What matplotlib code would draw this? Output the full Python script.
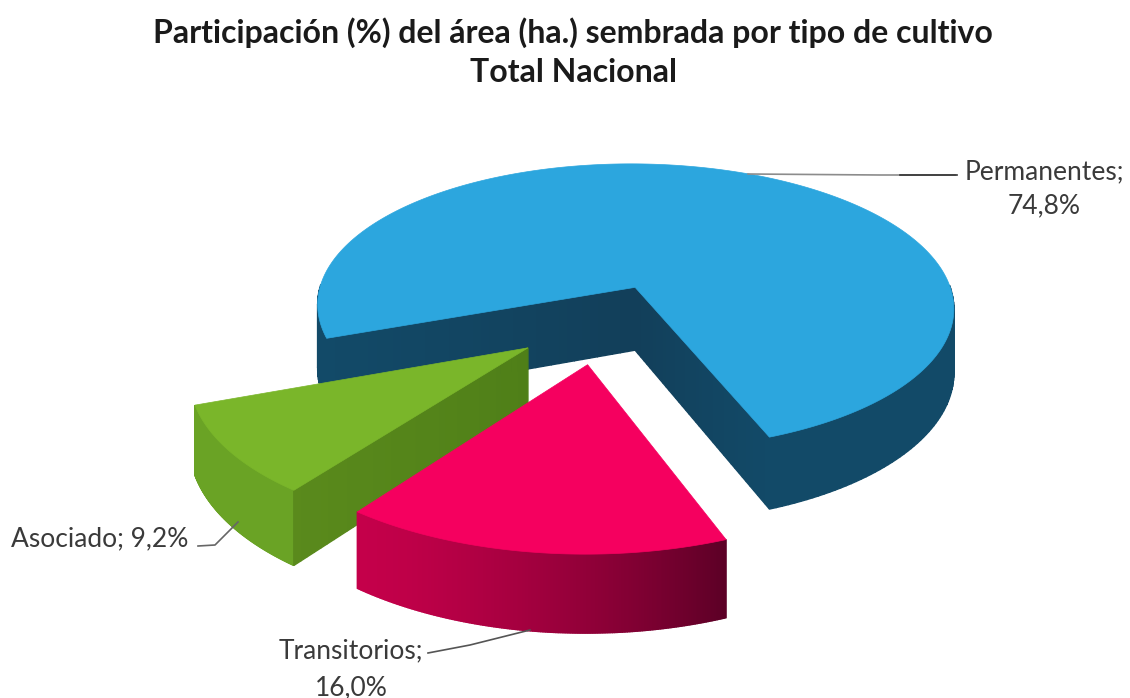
import numpy as np
import matplotlib
matplotlib.use("Agg")
import matplotlib.pyplot as plt
from matplotlib.colors import to_rgb

categories = ["Permanentes", "Asociado", "Transitorios"]
values = [74.8, 9.2, 16.0]
labels = ["Permanentes;\n74,8%", "Asociado; 9,2%", "Transitorios;\n16,0%"]
title = "Participación (%) del área (ha.) sembrada por tipo de cultivo\nTotal Nacional"

plt.rcParams["font.family"] = ["Lato", "DejaVu Sans"]

CX, CY = 600, 323
RX, RY = 326, 150
KP = 0.14
EXPLODE = 0.27
DEPTH = 65
START = -69  # where Permanentes begins, going counter-clockwise


def project(u, v, down=0.0):
    s = 1 / (1 + KP * v)
    return CX + RX * u * s, CY - RY * v * s + down * s


def mix(c1, c2, f):
    a, b = np.array(to_rgb(c1)), np.array(to_rgb(c2))
    return tuple(a + (b - a) * f)


def draw_wedge(ax, a0, a1, top, side_a, side_b, faces=(), face_a="k", face_b="k"):
    mid = np.radians((a0 + a1) / 2)
    ou, ov = EXPLODE * np.cos(mid), EXPLODE * np.sin(mid)
    ang = np.linspace(a0, a1, 240)

    # outer wall, only the part that looks at the viewer
    for t0, t1 in zip(ang[:-1], ang[1:]):
        tm = np.radians((t0 + t1) / 2)
        if np.sin(tm) > 0.02:
            continue
        u = ou + np.cos(np.radians([t0, t1]))
        v = ov + np.sin(np.radians([t0, t1]))
        x0, y0 = project(u, v)
        x1, y1 = project(u, v, DEPTH)
        c = mix(side_a, side_b, ((t0 - a0) / (a1 - a0)) ** 1.6)
        ax.fill([x0[0], x0[1], x1[1], x1[0]], [y0[0], y0[1], y1[1], y1[0]],
                color=c, lw=1, zorder=ax.zbase)

    # cut faces that can be seen
    for t in faces:
        ru, rv = np.cos(np.radians(t)), np.sin(np.radians(t))
        steps = np.linspace(0, 1, 40)
        for f0, f1 in zip(steps[:-1], steps[1:]):
            u = ou + ru * np.array([f0, f1])
            v = ov + rv * np.array([f0, f1])
            x0, y0 = project(u, v)
            x1, y1 = project(u, v, DEPTH)
            ax.fill([x0[0], x0[1], x1[1], x1[0]], [y0[0], y0[1], y1[1], y1[0]],
                    color=mix(face_a, face_b, f0), lw=1, zorder=ax.zbase)

    # top
    u = np.r_[ou, ou + np.cos(np.radians(ang))]
    v = np.r_[ov, ov + np.sin(np.radians(ang))]
    x, y = project(u, v)
    ax.fill(x, y, color=top, lw=0.5, zorder=ax.zbase + 1)
    ax.zbase += 2


fig = plt.figure(figsize=(11.3, 6.98), dpi=100)
ax = fig.add_axes([0, 0, 1, 1])
ax.set_xlim(0, 1130)
ax.set_ylim(698, 0)
ax.axis("off")
ax.zbase = 2

spans = [v / sum(values) * 360 for v in values]
a_perm = (START, START + spans[0])
a_asoc = (a_perm[1], a_perm[1] + spans[1])
a_tran = (a_asoc[1], a_asoc[1] + spans[2])

draw_wedge(ax, *a_perm, "#2CA6DE", "#124A68", "#124A68", a_perm, "#123F5A", "#124A68")
draw_wedge(ax, *a_asoc, "#7AB62A", "#6AA325", "#6AA325", [a_asoc[1]], "#4F7F18", "#5A8A1C")
draw_wedge(ax, *a_tran, "#F5005F", "#C4004A", "#5C0026")

# leader lines
ax.plot([748, 880, 955], [174, 175, 175], color="#8c8c8c", lw=1.2, zorder=20)
ax.plot([900, 957], [175, 175], color="#333333", lw=1.2, zorder=21)
ax.plot([238, 215, 198], [522, 545, 546], color="#666666", lw=1.2, zorder=20)
ax.plot([530, 470, 428], [630, 645, 653], color="#555555", lw=1.2, zorder=20)

ax.text(1044, 189, labels[0], ha="center", va="center", fontsize=19, color="#3a3a3a", linespacing=1.45)
ax.text(11, 539, labels[1], ha="left", va="center", fontsize=19, color="#3a3a3a")
ax.text(351, 669, labels[2], ha="center", va="center", fontsize=19, color="#3a3a3a", linespacing=1.6)
ax.text(573, 52, title, ha="center", va="center", fontsize=23, fontweight="bold", color="#1a1a1a", linespacing=1.4)

fig.savefig("out.png", dpi=100)
